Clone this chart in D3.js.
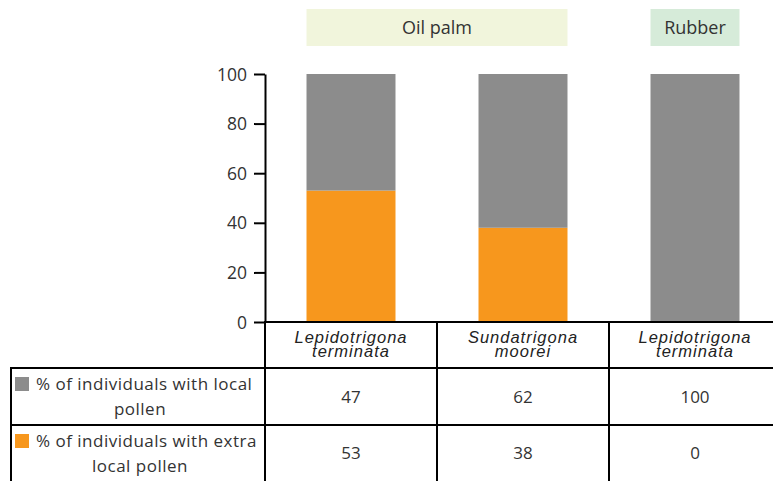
<!DOCTYPE html>
<html>
<head>
<meta charset="utf-8">
<script src="https://cdn.jsdelivr.net/npm/d3@7"></script>
<style>
  body { margin: 0; background: #fff; }
  svg { display: block; }
  .sans { font-family: "Open Sans", "Noto Sans", sans-serif; fill: #333; }
  .species { font-family: "Liberation Sans", Arial, sans-serif; font-style: italic; fill: #222; letter-spacing: 1px; }
</style>
</head>
<body>
<script>
// data
const species = [["Lepidotrigona", "terminata"], ["Sundatrigona", "moorei"], ["Lepidotrigona", "terminata"]];
const habitat = ["Oil palm", "Oil palm", "Rubber"];
const localPollen = [47, 62, 100];
const extraPollen = [53, 38, 0];
const seriesNames = [["% of individuals with local", "pollen"], ["% of individuals with extra", "local pollen"]];
const yTicks = [0, 20, 40, 60, 80, 100];

const W = 773, H = 481;
const colors = ["#8c8c8c", "#f7971d"];
const habitatColors = {"Oil palm": "#f1f5dc", "Rubber": "#d6ebd9"};

const svg = d3.select("body").append("svg")
  .attr("width", W)
  .attr("height", H);

const x0 = 265, x1 = 781;
const col = d3.scaleBand().domain(d3.range(species.length)).range([x0, x1]);
const bar = col.copy().paddingInner(0.4826).paddingOuter(0.2413);
const y = d3.scaleLinear().domain([0, 100]).range([322, 74]);

// habitat header boxes
const groups = Array.from(d3.group(d3.range(species.length), i => habitat[i]), ([k, v]) => ({k, first: v[0], last: v[v.length - 1]}));
const gHead = svg.append("g").selectAll("g").data(groups).join("g");
gHead.append("rect")
  .attr("x", d => bar(d.first))
  .attr("y", 9)
  .attr("width", d => bar(d.last) + bar.bandwidth() - bar(d.first))
  .attr("height", 37)
  .attr("fill", d => habitatColors[d.k]);
gHead.append("text")
  .attr("class", "sans")
  .attr("x", d => (bar(d.first) + bar(d.last) + bar.bandwidth()) / 2)
  .attr("y", 34)
  .attr("text-anchor", "middle")
  .style("font-size", "18px")
  .text(d => d.k);

// stacked bars
const rows = species.map((s, i) => ({i, local: localPollen[i], extra: extraPollen[i]}));
const stack = d3.stack().keys(["extra", "local"])(rows);
svg.append("g").selectAll("g")
  .data(stack)
  .join("g")
  .attr("fill", d => d.key === "local" ? colors[0] : colors[1])
  .selectAll("rect")
  .data(d => d)
  .join("rect")
  .attr("x", d => bar(d.data.i))
  .attr("y", d => y(d[1]))
  .attr("width", bar.bandwidth())
  .attr("height", d => y(d[0]) - y(d[1]));

// y axis
const yAxis = svg.append("g")
  .attr("transform", "translate(" + x0 + ",0)")
  .call(d3.axisLeft(y).tickValues(yTicks).tickSize(11).tickPadding(7).tickSizeOuter(0));
yAxis.select(".domain").attr("stroke", "#000").attr("stroke-width", 2);
yAxis.selectAll(".tick line").attr("stroke", "#000").attr("stroke-width", 2);
yAxis.selectAll(".tick text")
  .attr("class", "sans")
  .style("font-size", "17.5px")
  .attr("dy", "0.35em");

// table
const tableLines = svg.append("g").attr("stroke", "#000").attr("stroke-width", 2);
const rowY = [322, 368, 425, 481];
tableLines.append("line").attr("x1", x0 - 1).attr("x2", W).attr("y1", rowY[0]).attr("y2", rowY[0]);
tableLines.selectAll(".h").data(rowY.slice(1, 3)).join("line")
  .attr("x1", 10).attr("x2", W).attr("y1", d => d).attr("y2", d => d);
tableLines.append("line").attr("x1", 11).attr("x2", 11).attr("y1", rowY[1]).attr("y2", H);
tableLines.selectAll(".v").data(d3.range(species.length + 1)).join("line")
  .attr("x1", i => i < species.length ? col(i) : x1)
  .attr("x2", i => i < species.length ? col(i) : x1)
  .attr("y1", rowY[0]).attr("y2", H);

// species labels
const spText = svg.append("g").selectAll("text")
  .data(species)
  .join("text")
  .attr("class", "species")
  .attr("text-anchor", "middle")
  .attr("x", (d, i) => col(i) + col.bandwidth() / 2)
  .style("font-size", "16.5px");
spText.append("tspan").attr("x", (d, i) => col(i) + col.bandwidth() / 2).attr("y", 343).text(d => d[0]);
spText.append("tspan").attr("x", (d, i) => col(i) + col.bandwidth() / 2).attr("y", 357).text(d => d[1]);

// series rows
const seriesVals = [localPollen, extraPollen];
seriesNames.forEach((name, r) => {
  const top = rowY[r + 1], bot = rowY[r + 2];
  svg.append("rect")
    .attr("x", 15).attr("y", top + 9)
    .attr("width", 14).attr("height", 14)
    .attr("fill", colors[r]);
  svg.append("text").attr("class", "sans")
    .attr("x", 36).attr("y", top + 22)
    .style("font-size", "17px")
    .style("letter-spacing", "0.5px")
    .text(name[0]);
  svg.append("text").attr("class", "sans")
    .attr("x", 140).attr("y", top + 47)
    .attr("text-anchor", "middle")
    .style("font-size", "17px")
    .style("letter-spacing", "0.5px")
    .text(name[1]);
  svg.append("g").selectAll("text")
    .data(seriesVals[r])
    .join("text")
    .attr("class", "sans")
    .attr("x", (d, i) => col(i) + col.bandwidth() / 2)
    .attr("y", (top + bot) / 2 + 6)
    .attr("text-anchor", "middle")
    .style("font-size", "17px")
    .text(d => d);
});
</script>
</body>
</html>
